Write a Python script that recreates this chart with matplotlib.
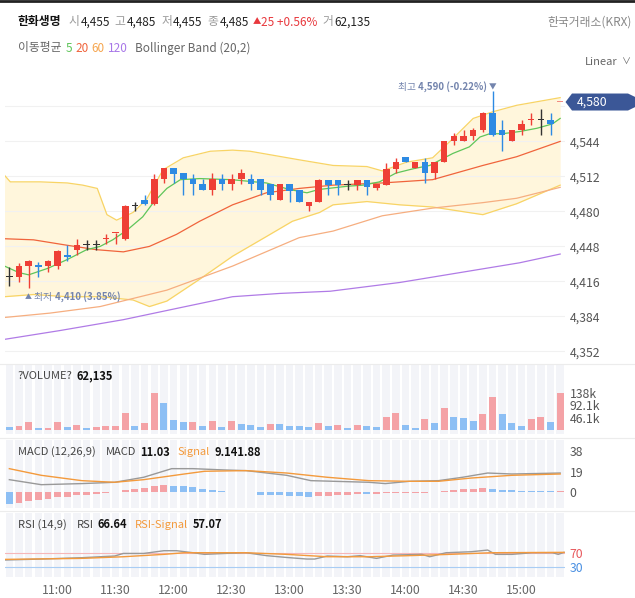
import numpy as np
import matplotlib
matplotlib.use("Agg")
import matplotlib.pyplot as plt
from matplotlib.lines import Line2D
from matplotlib.patches import Polygon

plt.rcParams['font.family'] = ['Noto Sans CJK KR', 'DejaVu Sans']

W, H = 635, 598

# ---- data (5 minute candles, 10:35 .. 15:20) ----
opens = [4420, 4420, 4430, 4431, 4430, 4430, 4440, 4445, 4449, 4449,
         4455, 4460, 4455, 4485, 4490, 4487, 4510, 4520, 4515, 4510,
         4505, 4500, 4510, 4505, 4510, 4510, 4510, 4505, 4490, 4505,
         4500, 4485, 4489, 4509, 4509, 4504, 4504, 4509, 4501, 4504,
         4519, 4530, 4520, 4525, 4515, 4525, 4544, 4544, 4549, 4554,
         4570, 4554, 4544, 4554, 4564, 4564, 4564, 4580]
highs = [4429, 4433, 4436, 4434, 4436, 4445, 4449, 4455, 4454, 4454,
         4459, 4460, 4486, 4489, 4495, 4514, 4520, 4520, 4515, 4514,
         4510, 4515, 4514, 4514, 4519, 4514, 4510, 4505, 4505, 4505,
         4500, 4489, 4510, 4509, 4509, 4509, 4509, 4509, 4505, 4524,
         4529, 4530, 4525, 4529, 4525, 4544, 4552, 4554, 4556, 4571,
         4590, 4564, 4554, 4564, 4570, 4574, 4570, 4580]
lows = [4412, 4415, 4410, 4420, 4425, 4427, 4435, 4440, 4445, 4445,
        4450, 4450, 4454, 4480, 4486, 4486, 4506, 4506, 4495, 4495,
        4500, 4495, 4500, 4500, 4505, 4500, 4495, 4490, 4490, 4489,
        4489, 4480, 4489, 4495, 4495, 4500, 4500, 4495, 4500, 4504,
        4515, 4525, 4520, 4506, 4510, 4525, 4541, 4544, 4545, 4553,
        4549, 4535, 4544, 4550, 4559, 4550, 4550, 4580]
closes = [4420, 4430, 4435, 4429, 4435, 4444, 4438, 4449, 4449, 4449,
          4455, 4460, 4485, 4485, 4487, 4510, 4520, 4514, 4510, 4505,
          4500, 4510, 4505, 4510, 4515, 4505, 4500, 4495, 4505, 4499,
          4489, 4489, 4509, 4504, 4504, 4504, 4509, 4502, 4505, 4519,
          4525, 4525, 4525, 4515, 4525, 4544, 4549, 4549, 4554, 4570,
          4550, 4550, 4554, 4560, 4564, 4564, 4560, 4580]

volume_k = [12.5, 15, 30, 7.5, 7.5, 30, 12.5, 19, 9, 12.5,
            15, 15, 63, 15, 27.5, 138, 103, 37.6, 30, 30,
            15, 34, 12.5, 34, 22.5, 19, 12.5, 22.5, 22.5, 16,
            16, 12.5, 27.5, 15, 19, 9, 19, 15, 12.5, 47.6,
            63, 19, 9, 40, 27.5, 81, 47.6, 44, 34, 59,
            125, 59, 25, 16, 40, 50, 31, 138]
volume_up = [0, 1, 1, 0, 1, 1, 0, 1, 0, 1,
             1, 1, 1, 0, 1, 1, 0, 0, 0, 1,
             0, 1, 0, 1, 0, 0, 0, 1, 0, 0,
             0, 0, 1, 0, 1, 0, 1, 0, 0, 1,
             1, 0, 0, 1, 0, 1, 0, 0, 0, 1,
             1, 0, 0, 0, 1, 1, 0, 1]

# moving averages / bollinger band (index, value)
ma5_x = [-0.5, 1, 2, 4, 6, 8, 9.4, 10.7, 12.2, 13.8, 14.9, 16.3, 17.7, 19.7, 23, 26.6,
         29, 30.8, 32, 35, 36.6, 38.3, 40, 41.8, 43.5, 45.9, 47.6, 48.7, 49.7, 51,
         52.8, 54.6, 56.2, 57]
ma5_y = [4430, 4424, 4422, 4428, 4436, 4445, 4448, 4454, 4463, 4475, 4488, 4501, 4509, 4510,
         4509, 4506, 4500, 4497, 4500, 4503, 4504, 4507, 4515, 4519, 4522, 4533, 4539,
         4548, 4551, 4551, 4553, 4556, 4560, 4565]
ma20_x = [-0.5, 2.5, 6, 9, 11.8, 14.5, 17.3, 19.7, 23.1, 26.6, 30, 33.5, 38.6, 43.8, 46.6,
          49, 52.5, 57]
ma20_y = [4455, 4454, 4449, 4445, 4443, 4448, 4459, 4471, 4486, 4497, 4501, 4504, 4506,
          4509, 4516, 4522, 4530, 4544]
ma60_x = [-0.5, 4.2, 9.4, 16.3, 23.1, 30, 33.5, 38.6, 43.8, 49, 52.5, 57]
ma60_y = [4383, 4387, 4393, 4408, 4430, 4456, 4462, 4476, 4483, 4488, 4492, 4502]
ma120_x = [-0.5, 5.2, 11.8, 17.7, 23.1, 28, 33.2, 40.4, 46.6, 52.8, 57]
ma120_y = [4363, 4371, 4381, 4392, 4402, 4405, 4407, 4415, 4424, 4433, 4441]
bb_up_x = [-0.5, 0.1, 3.2, 6, 7.6, 9.1, 10.1, 11.1, 12.8, 14.2, 15.9, 18, 20.8, 23.1,
           24.9, 30.1, 33.5, 37, 38.6, 41.1, 43.8, 45.6, 48, 50, 52.5, 57]
bb_up_y = [4513, 4507, 4507, 4506, 4504, 4501, 4477, 4472, 4479, 4491, 4518, 4529, 4535,
           4536, 4535, 4527, 4522, 4521, 4517, 4525, 4529, 4544, 4565, 4571, 4577, 4584]
bb_lo_x = [-0.5, 2.5, 6, 9.4, 12.8, 14.5, 16.3, 19.7, 23.1, 26.6, 29.3, 32.1, 33.5, 37,
           40.4, 43.8, 49, 52.5, 57]
bb_lo_y = [4402, 4404, 4402, 4402, 4399, 4393, 4398, 4418, 4439, 4457, 4471, 4479, 4486,
           4489, 4486, 4484, 4477, 4487, 4504]

macd_hist = [-10.4, -10.0, -7.7, -7.0, -6.1, -4.6, -4.0, -2.8, -2.1, -1.2,
             -0.3, 0.0, 2.4, 3.4, 4.0, 5.5, 6.4, 6.2, 5.5, 4.6,
             3.4, 2.1, 1.5, 0.6, 0.3, 0.0, -2.1, -2.4, -2.8, -3.4,
             -3.7, -4.3, -3.4, -3.0, -2.6, -2.2, -1.8, -2.0, -1.5, -1.0,
             -0.6, -0.4, -0.3, -0.2, 0.6, 1.5, 2.4, 2.8, 3.1, 3.7,
             2.8, 2.1, 1.8, 1.5, 1.4, 1.3, 0.9, 1.5]
macd_x = [0, 3.3, 7.5, 10.9, 13.9, 16.8, 19, 22.3, 24.5, 28.7, 31.2, 37.2, 38.9, 41.4,
          44.4, 46.9, 49.5, 52, 55.4, 57]
macd_y = [11.6, 7.0, 8.0, 9.2, 13.8, 21.7, 21.7, 20.5, 19.9, 15.6, 10.7, 9.2, 8.0, 10.1,
          10.7, 13.8, 17.7, 16.8, 17.4, 17.7]
signal_x = [0, 3.3, 7.5, 10.9, 13.9, 18.1, 20.2, 24.5, 28.7, 32.9, 37.2, 41.4, 44.4,
            47.8, 52, 57]
signal_y = [21.7, 15.6, 10.7, 9.2, 11.6, 16.8, 19.3, 19.9, 17.7, 13.8, 10.7, 10.1, 10.1,
            13.1, 15.6, 16.8]

rsi_x = [-0.5, 3.3, 7.5, 10.9, 11.8, 13.9, 16, 17.3, 19, 20.2, 22.3, 24.5, 26.6, 28.7,
         30.8, 31.6, 32.9, 35, 36.3, 38, 39.7, 42.7, 43.5, 45.2, 47.8, 49.5, 50.3, 52,
         54.1, 56.2, 56.8, 57.4]
rsi_y = [50, 52.7, 56.4, 61, 68, 68, 75.5, 75.5, 70, 65.5, 68, 70, 62, 57, 52.7, 52.7, 61,
         59, 62, 54.5, 63.6, 65.5, 59, 70, 72.7, 77.3, 65.5, 65.5, 70, 70, 65.5, 71]
rsig_x = [-0.5, 7.5, 11.8, 16, 18.1, 24.5, 28.7, 32.9, 37.2, 41.4, 45.6, 49.9, 57.4]
rsig_y = [51.8, 54.5, 59, 65.5, 70, 70, 65.5, 59, 59, 62, 65.5, 70, 71]

price_ticks = [4352, 4384, 4416, 4448, 4480, 4512, 4544]
time_ticks = [5, 11, 17, 23, 29, 35, 41, 47, 53]
time_labels = ['11:00', '11:30', '12:00', '12:30', '13:00', '13:30', '14:00', '14:30', '15:00']
last_price = 4580

# ---- colours ----
RED, BLUE, DOJI = '#ee3f36', '#2d8ae3', '#333333'
VRED, VBLUE = '#f4a2a6', '#8dbff4'
STRIPE = '#f3f4f8'
NOTE = '#7384ad'
TAG = '#3b5797'


def px(x0, y0, x1, y1):
    return [x0 / W, 1 - y1 / H, (x1 - x0) / W, (y1 - y0) / H]


def row(x, y, pieces, size=8.5):
    # lay out text pieces left to right; each piece: (text, color, bold, gap after)
    r = fig.canvas.get_renderer()
    for s, col, bold, gap in pieces:
        t = fig.text(x / W, 1 - y / H, s, va='center', ha='left', fontsize=size,
                     color=col, fontweight='bold' if bold else 'normal')
        x += t.get_window_extent(r).width + gap


fig = plt.figure(figsize=(W / 100, H / 100), dpi=100)
n = len(closes)
idx = np.arange(n)
XL = (-0.5, 57.5)

# ---- main price panel ----
ax = fig.add_axes(px(4.5, 75, 565, 362))
ax.set_xlim(*XL)
ax.set_ylim(4342.3, 4604.7)
xs = np.linspace(-0.5, 57, 400)
ax.fill_between(xs, np.interp(xs, bb_up_x, bb_up_y), np.interp(xs, bb_lo_x, bb_lo_y),
                color='#fff6dc', lw=0, zorder=1)
ax.plot(bb_up_x, bb_up_y, color='#f8d465', lw=0.9, zorder=2)
ax.plot(bb_lo_x, bb_lo_y, color='#f8d465', lw=0.9, zorder=2)
ax.plot(ma120_x, ma120_y, color='#b07be6', lw=0.9, zorder=2)
ax.plot(ma60_x, ma60_y, color='#f6ae80', lw=0.9, zorder=2)
ax.plot(ma20_x, ma20_y, color='#f0643c', lw=0.9, zorder=2)
ax.plot(ma5_x, ma5_y, color='#5fc55a', lw=0.9, zorder=2)

prev = closes[0]
for i in idx:
    o, h, l, c = opens[i], highs[i], lows[i], closes[i]
    if c > o:
        col = RED
    elif c < o:
        col = BLUE
    else:
        col = RED if c > prev else (BLUE if c < prev else DOJI)
    if i == n - 1:
        col = '#f28b82'   # live candle drawn lighter
    prev = c
    ax.vlines(i, l, h, color=col, lw=1, zorder=3)
    bh = max(abs(c - o), 0.8)
    ax.bar(i, bh, bottom=min(o, c), width=0.62 if i == n - 1 else 0.68,
           color=col, lw=0, zorder=4)

ax.set_yticks(price_ticks)
ax.set_yticklabels([f'{v:,}' for v in price_ticks])
ax.yaxis.tick_right()
ax.tick_params(axis='y', length=0, pad=3.5, labelsize=8.8, labelcolor='#555555')
ax.set_xticks([])
ax.grid(axis='y', color='#f1f1f1', lw=0.8, zorder=0)
ax.axhline(4576, color='#f1f1f1', lw=0.8, zorder=0)
for s in ax.spines.values():
    s.set_visible(False)

hi_i = int(np.argmax(highs))
lo_i = int(np.argmin(lows))
ax.text(hi_i, highs[hi_i] + 3.6, '▼', color=NOTE, fontsize=5.5,
        ha='center', va='center', zorder=6)
t = ax.text(hi_i - 0.6, highs[hi_i] + 3.8, f'{highs[hi_i]:,} (-0.22%)', color=NOTE,
            fontsize=7, fontweight='bold', ha='right', va='center', zorder=6)
ax.annotate('최고 ', xy=(0, 0.5), xycoords=t, ha='right', va='center',
            color=NOTE, fontsize=7, zorder=6)
ax.text(lo_i, lows[lo_i] - 8, '▲', color=NOTE, fontsize=5,
        ha='center', va='center', zorder=6)
t2 = ax.text(lo_i + 0.6, lows[lo_i] - 8, '최저 ', color=NOTE, fontsize=7,
             ha='left', va='center', zorder=6)
ax.annotate(f'{lows[lo_i]:,} (3.85%)', xy=(1, 0.5), xycoords=t2, ha='left', va='center',
            color=NOTE, fontsize=7, fontweight='bold', zorder=6)

# price tag on the right edge
ty = ax.transData.transform((0, last_price))[1] / H
hx = lambda v: v / W
hh = 8.5 / H
fig.add_artist(Polygon([(hx(565.5), ty), (hx(572), ty + hh), (hx(628), ty + hh),
                        (hx(635), ty + hh * 0.6), (hx(635), ty - hh * 0.6),
                        (hx(628), ty - hh), (hx(572), ty - hh)],
                       closed=True, fc=TAG, ec='none', zorder=5))
fig.text(hx(577), ty - 0.6 / H, f'{last_price:,}', color='white', fontsize=8.8,
         ha='left', va='center', zorder=6)

# ---- volume panel ----
axv = fig.add_axes(px(4.5, 365, 565, 434))
axv.set_xlim(*XL)
axv.set_ylim(-15, 244)
for i in idx:
    axv.axvspan(i - 0.39, i + 0.39, color=STRIPE, lw=0, zorder=0)
axv.bar(idx, volume_k, width=0.72, color=[VRED if u else VBLUE for u in volume_up],
        lw=0, zorder=2)
axv.set_yticks([46.05, 92.1, 138.15])
axv.set_yticklabels(['46.1k', '92.1k', '138k'])

# ---- MACD panel ----
axm = fig.add_axes(px(4.5, 440, 565, 508))
axm.set_xlim(*XL)
axm.set_ylim(-14.4, 48)
for i in idx:
    axm.axvspan(i - 0.39, i + 0.39, color=STRIPE, lw=0, zorder=0)
hist_diff = np.diff(macd_hist, prepend=macd_hist[0] + 1)
axm.bar(idx, macd_hist, width=0.72, color=[VRED if d > 0 else VBLUE for d in hist_diff],
        lw=0, zorder=2)
axm.plot(macd_x, macd_y, color='#999999', lw=1, zorder=3)
axm.plot(signal_x, signal_y, color='#f39a3c', lw=1, zorder=3)
axm.set_yticks([0, 19, 38])

# ---- RSI panel ----
axr = fig.add_axes(px(4.5, 513, 565, 577))
axr.set_xlim(*XL)
axr.set_ylim(3.6, 178.6)
for i in idx:
    axr.axvspan(i - 0.39, i + 0.39, color=STRIPE, lw=0, zorder=0)
axr.axhline(70, color='#f6b7b9', lw=0.8, zorder=1)
axr.axhline(30, color='#a9cdf4', lw=0.8, zorder=1)
axr.plot(rsi_x, rsi_y, color='#999999', lw=1, zorder=3)
axr.plot(rsig_x, rsig_y, color='#f39a3c', lw=1, zorder=3)
axr.set_yticks([30, 70])
axr.set_xticks(time_ticks)
axr.set_xticklabels(time_labels)
axr.tick_params(axis='x', length=0, pad=5, labelsize=8.8, labelcolor='#666666')

for a in (axv, axm, axr):
    a.yaxis.tick_right()
    a.tick_params(axis='y', length=0, pad=3.5, labelsize=8.8, labelcolor='#555555')
    for s in a.spines.values():
        s.set_visible(False)
for a in (axv, axm):
    a.set_xticks([])
axr.get_yticklabels()[0].set_color('#4a90e2')
axr.get_yticklabels()[1].set_color('#e8585c')

# separators and top border
for yy in (363.5, 437.5, 510.5):
    fig.add_artist(Line2D([0, 1], [1 - yy / H] * 2, color='#ececec', lw=0.8))
fig.add_artist(Line2D([0, 1], [1 - 0.8 / H] * 2, color='#222222', lw=2))

# ---- header texts ----
GRAY, DARK, UPC = '#9a9a9a', '#222222', '#e8383d'
row(18, 22, [('한화생명', '#111111', True, 7),
             ('시', GRAY, False, 1), ('4,455', DARK, False, 5),
             ('고', GRAY, False, 1), ('4,485', DARK, False, 5),
             ('저', GRAY, False, 1), ('4,455', DARK, False, 5),
             ('종', GRAY, False, 1), ('4,485', DARK, False, 3)], size=8.5)
row(253, 22, [('▲', UPC, False, 2)], size=6)
row(261, 22, [('25 +0.56%', UPC, False, 5), ('거', GRAY, False, 1),
              ('62,135', DARK, False, 0)], size=8.5)
fig.text(632 / W, 1 - 22 / H, '한국거래소(KRX)', fontsize=8.5, color='#888888',
         ha='right', va='center')

row(18, 48, [('이동평균', '#666666', False, 4), ('5', '#5fc55a', False, 3),
             ('20', '#f0643c', False, 3), ('60', '#f6a54e', False, 3),
             ('120', '#a877e8', False, 8), ('Bollinger Band (20,2)', '#666666', False, 0)],
    size=8.5)
fig.text(617 / W, 1 - 62 / H, 'Linear', fontsize=8, color='#666666', ha='right', va='center')
fig.text(622 / W, 1 - 62 / H, '∨', fontsize=6.5, color='#666666', ha='left', va='center')

# ---- panel titles ----
row(18, 376, [('?VOLUME?', '#444444', False, 4), ('62,135', '#111111', True, 0)], size=8)
row(18, 452, [('MACD (12,26,9)', '#444444', False, 10), ('MACD', '#444444', False, 4),
              ('11.03', '#111111', True, 8), ('Signal', '#f39a3c', False, 4),
              ('9.141.88', '#111111', True, 0)], size=8)
row(18, 525, [('RSI (14,9)', '#444444', False, 10), ('RSI', '#444444', False, 4),
              ('66.64', '#111111', True, 8), ('RSI-Signal', '#f39a3c', False, 4),
              ('57.07', '#111111', True, 0)], size=8)

fig.savefig('out.png', dpi=100, facecolor='white')
